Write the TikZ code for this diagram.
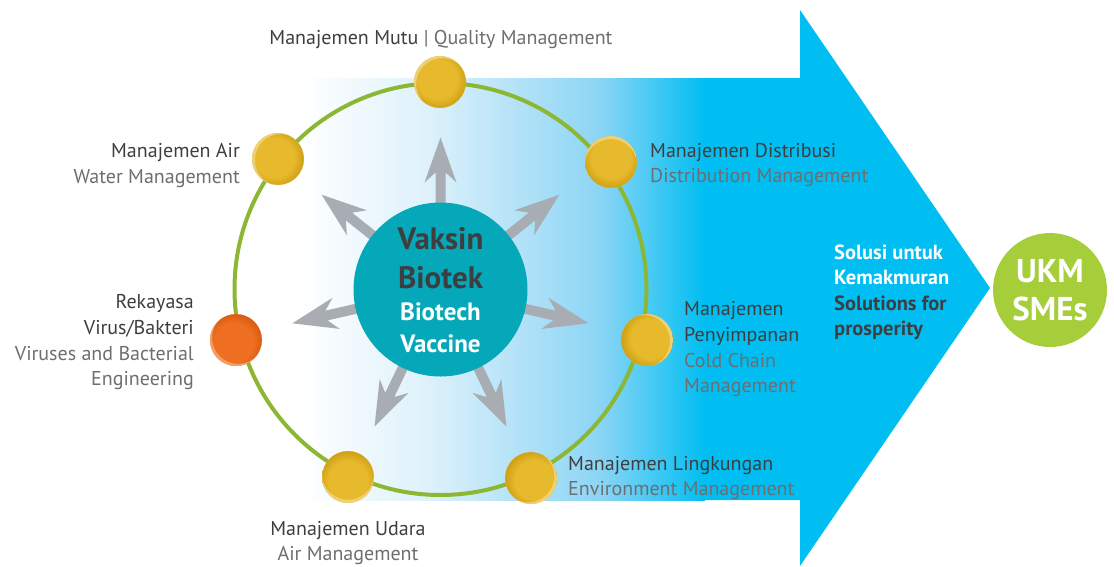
\documentclass[tikz,border=0pt]{standalone}
\usepackage{fontspec}
\setmainfont{PT Sans}
\usetikzlibrary{calc}
\definecolor{cyanA}{HTML}{00BEF2}
\definecolor{lbA}{HTML}{DDF1FB}
\definecolor{lbB}{HTML}{8CD5F5}
\definecolor{ringgreen}{HTML}{8DB733}
\definecolor{coreteal}{HTML}{05A8B8}
\definecolor{arrowgray}{HTML}{A8ADB3}
\definecolor{ukmgreen}{HTML}{A6CD3A}
\definecolor{darktext}{HTML}{3E3E40}
\definecolor{graytext}{HTML}{6D6E71}
\definecolor{gmain}{HTML}{E7BA2E}
\definecolor{gdark}{HTML}{C7980C}
\definecolor{glight}{HTML}{F4DB8E}
\definecolor{omain}{HTML}{EF6F22}
\definecolor{odark}{HTML}{D0560B}
\definecolor{olight}{HTML}{F8AE80}
\pgfdeclareradialshading{goldshade}{\pgfpoint{0bp}{6bp}}{color(0bp)=(gmain); color(19bp)=(gmain); color(30bp)=(gdark); color(50bp)=(gdark)}
\pgfdeclareradialshading{orangeshade}{\pgfpoint{0bp}{6bp}}{color(0bp)=(omain); color(19bp)=(omain); color(30bp)=(odark); color(50bp)=(odark)}
\tikzset{
  ballbase/.style={circle, minimum size=52pt, inner sep=0pt, shade},
  ballg/.style={ballbase, shading=goldshade, shading angle=#1+90,
    path picture={\fill[glight, opacity=.75, even odd rule] (path picture bounding box.center) circle (26pt)
      ([shift={(canvas polar cs:angle=#1,radius=3pt)}]path picture bounding box.center) circle (26pt);}},
  ballo/.style={ballbase, shading=orangeshade, shading angle=#1+90,
    path picture={\fill[olight, opacity=.75, even odd rule] (path picture bounding box.center) circle (26pt)
      ([shift={(canvas polar cs:angle=#1,radius=3pt)}]path picture bounding box.center) circle (26pt);}},
  lbl/.style={inner sep=0pt, font=\fontsize{20}{24}\selectfont},
  dk/.style={lbl, text=darktext},
  gy/.style={lbl, text=graytext},
  coretxt/.style={inner sep=0pt, font=\bfseries\fontsize{31}{36}\selectfont, text=darktext},
  corewt/.style={inner sep=0pt, font=\bfseries\fontsize{25}{29}\selectfont, text=white},
  soltxt/.style={inner sep=0pt, font=\bfseries\fontsize{20.5}{24}\selectfont},
  ukmtxt/.style={inner sep=0pt, font=\bfseries\fontsize{33}{38}\selectfont, text=white},
  radarrow/.style={fill=arrowgray},
}
\begin{document}
\begin{tikzpicture}[x=1pt,y=-1pt]
\useasboundingbox (0,0) rectangle (1114,566);
% big arrow
\fill[cyanA] (300,78) -- (800,78) -- (800,10) -- (990,288) -- (800,566) -- (800,500) -- (300,500) -- cycle;
\shade[left color=white, right color=lbA] (300,78) rectangle (430,500);
\shade[left color=lbA, right color=lbB] (429.5,78) rectangle (600,500);
\shade[left color=lbB, right color=cyanA] (599.5,78) rectangle (705,500);
% ring
\draw[ringgreen, line width=4pt] (440.5,289) circle (206);
% radiating arrows
\foreach \k in {0,...,6}{
  \begin{scope}[shift={(440.5,289.5)}, rotate={90+\k*360/7}]
    \fill[radarrow] (70,5) -- (117,5) -- (107,16) -- (152,0) -- (107,-16) -- (117,-5) -- (70,-5) -- cycle;
  \end{scope}
}
% core
\node[circle, fill=coreteal, minimum size=174pt, inner sep=0pt] (core) at (440.5,289.5) {};
\node[coretxt, anchor=base] (v1) at (440.5,249) {Vaksin};
\node[coretxt, anchor=base] (v2) at (440.5,288) {Biotek};
\node[corewt, anchor=base] (v3) at (440.5,320) {Biotech};
\node[corewt, anchor=base] (v4) at (440.5,352) {Vaccine};
% balls
\node[ballg=-45] (bMutu) at (440,82) {};
\node[ballg=-20] (bAir) at (278,159) {};
\node[ballg=-90] (bDist) at (611,162) {};
\node[ballo=45] (bRek) at (236,340) {};
\node[ballg=200] (bCold) at (647,340) {};
\node[ballg=90] (bUdara) at (348,477) {};
\node[ballg=150] (bLing) at (531,478) {};
% labels
\node[lbl, anchor=base] (lMutu) at (441,44) {\textcolor{darktext}{Manajemen Mutu} \textcolor{graytext}{| Quality Management}};
\node[dk, anchor=base east] (lAir1) at (240,157) {Manajemen Air};
\node[gy, anchor=base east] (lAir2) at (240,183) {Water Management};
\node[dk, anchor=base east] (lRek1) at (194,308) {Rekayasa};
\node[dk, anchor=base east] (lRek2) at (194,334) {Virus/Bakteri};
\node[gy, anchor=base east] (lRek3) at (194,360) {Viruses and Bacterial};
\node[gy, anchor=base east] (lRek4) at (194,385) {Engineering};
\node[dk, anchor=base west] (lDist1) at (650,157) {Manajemen Distribusi};
\node[gy, anchor=base west] (lDist2) at (650,182) {Distribution Management};
\node[dk, anchor=base west] (lCold1) at (684,315) {Manajemen};
\node[dk, anchor=base west] (lCold2) at (684,341) {Penyimpanan};
\node[gy, anchor=base west] (lCold3) at (684,367) {Cold Chain};
\node[gy, anchor=base west] (lCold4) at (684,392) {Management};
\node[dk, anchor=base west] (lLing1) at (568,470) {Manajemen Lingkungan};
\node[gy, anchor=base west] (lLing2) at (568,495) {Environment Management};
\node[dk, anchor=base] (lUd1) at (348,535) {Manajemen Udara};
\node[gy, anchor=base] (lUd2) at (348,560) {Air Management};
% solutions
\node[soltxt, text=white, anchor=base west] (s1) at (834,259) {Solusi untuk};
\node[soltxt, text=white, anchor=base west] (s2) at (834,284) {Kemakmuran};
\node[soltxt, text=darktext, anchor=base west] (s3) at (834,310) {Solutions for};
\node[soltxt, text=darktext, anchor=base west] (s4) at (834,335) {prosperity};
% UKM
\node[circle, fill=ukmgreen, minimum size=114pt, inner sep=0pt] (ukm) at (1050,290) {};
\node[ukmtxt, anchor=base] (u1) at (1050,282) {UKM};
\node[ukmtxt, anchor=base] (u2) at (1050,320) {SMEs};
\end{tikzpicture}
\end{document}
